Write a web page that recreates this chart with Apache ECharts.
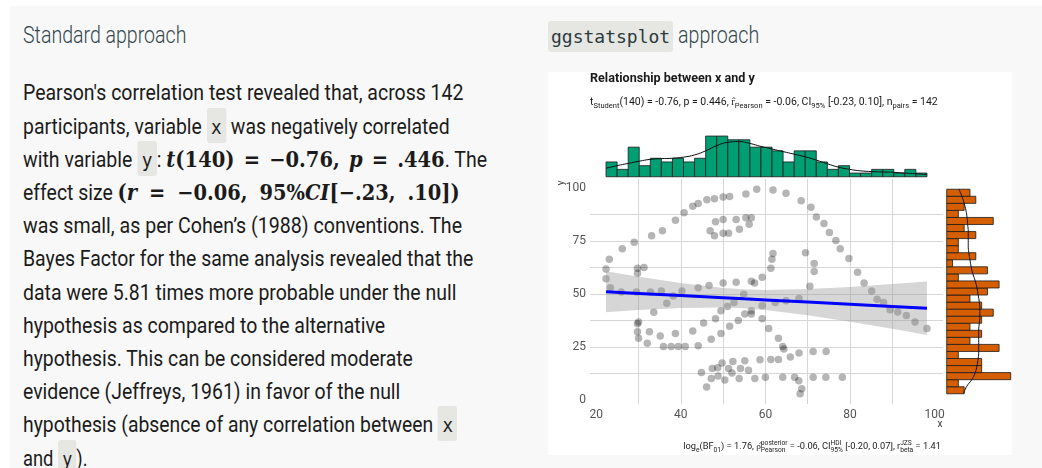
<!DOCTYPE html>
<html><head><meta charset="utf-8">
<script src="https://cdn.jsdelivr.net/npm/echarts@6/dist/echarts.min.js"></script>
<style>
 html,body{margin:0;padding:0;background:#fff;width:1042px;height:468px;overflow:hidden;}
 #panel{position:absolute;left:10px;top:6px;width:1032px;height:462px;background:#f8f8f8;}
 .hd{position:absolute;height:30px;line-height:30px;font-family:Roboto;font-weight:300;font-size:24px;color:#34474d;white-space:nowrap;transform-origin:0 0;}
 .chip{position:absolute;left:548px;top:21px;height:31px;line-height:31px;padding:0 3px;background:#e6e7e2;border-radius:3px;font-family:"DejaVu Sans Mono",monospace;font-size:18px;color:#2b3a3e;}
 .ln{position:absolute;left:23px;height:33px;line-height:33px;font-family:Roboto;font-size:22px;color:#1b1b1b;white-space:nowrap;transform-origin:0 0;}
 .cd{font-family:"DejaVu Sans Mono",monospace;font-size:20px;background:#e6e7e2;border-radius:3px;padding:7px 5px 4px 5px;}
 .mt{font-family:"DejaVu Serif",serif;font-weight:bold;font-size:22px;}
 #chart{position:absolute;left:548px;top:72px;width:464px;height:383px;background:#fff;}
</style></head>
<body>
<div id="panel"></div>
<div class="hd fit" data-w="163" style="left:23px;top:20px;">Standard approach</div>
<div class="chip">ggstatsplot</div>
<div class="hd fit" data-w="81" style="left:678px;top:20px;">approach</div>

<div id="l1" class="ln fit" data-w="440" style="top:76.3px">Pearson's correlation test revealed that, across 142</div>
<div class="ln fit" data-w="427" style="top:109.5px">participants, variable <span class="cd">x</span> was negatively correlated</div>
<div class="ln fit" data-w="464" style="top:142.7px">with variable <span class="cd">y</span>: <span class="mt" data-w="278"><i>t</i>(140) = −0.76, <i>p</i> = .446</span>. The</div>
<div class="ln fit" data-w="437" style="top:175.9px">effect size <span class="mt" data-w="343">(<i>r</i> = −0.06, 95%<i>CI</i>[−.23, .10])</span></div>
<div class="ln fit" data-w="439" style="top:209.1px">was small, as per Cohen’s (1988) conventions. The</div>
<div class="ln fit" data-w="450" style="top:242.3px">Bayes Factor for the same analysis revealed that the</div>
<div class="ln fit" data-w="433" style="top:275.5px">data were 5.81 times more probable under the null</div>
<div class="ln fit" data-w="362" style="top:308.7px">hypothesis as compared to the alternative</div>
<div class="ln fit" data-w="390" style="top:341.9px">hypothesis. This can be considered moderate</div>
<div class="ln fit" data-w="377" style="top:375.1px">evidence (Jeffreys, 1961) in favor of the null</div>
<div class="ln fit" data-w="434" style="top:408.3px">hypothesis (absence of any correlation between <span class="cd">x</span></div>
<div class="ln fit" data-w="65" style="top:441.5px">and <span class="cd">y</span>).</div>

<div id="chart"></div>
<script>
// ---------------- data ----------------
const xVals = [55.3846,51.5385,46.1538,42.8205,40.7692,38.7179,35.6410,33.0769,28.9744,26.1538,
23.0769,22.3077,22.3077,23.3333,25.8974,29.4872,32.8205,35.3846,40.2564,44.1026,
46.6667,50.0000,53.0769,56.6667,59.2308,61.2821,61.5385,61.7949,57.4359,54.8718,
52.5641,48.2051,49.4872,51.0256,45.3846,42.8205,38.7179,35.1282,32.5641,30.0000,
33.5897,36.6667,38.2051,29.7436,29.7436,30.0000,32.0513,35.8974,41.0256,44.1026,
47.1795,49.4872,51.5385,53.5897,55.1282,56.6667,59.2308,62.3077,64.8718,67.9487,
70.5128,71.5385,71.5385,69.4872,46.9231,48.2051,50.0000,53.0769,55.3846,56.6667,
56.1538,53.8462,51.2821,50.0000,47.9487,29.7436,29.7436,31.2821,57.9487,61.7949,
64.8718,68.4615,70.7692,72.0513,73.8462,75.1282,76.6667,77.6923,79.7436,81.7949,
83.3333,85.1282,86.4103,87.9487,89.4872,93.3333,95.3846,98.2051,56.6667,59.2308,
60.7692,63.0769,64.1026,64.3590,74.3590,71.2821,67.9487,65.8974,63.0769,61.2821,
58.7179,55.1282,52.3077,49.7436,47.4359,44.8718,48.7179,51.2821,54.1026,56.0,
46.1,47.2,48.8,50.4,52.1,53.8,57.5,60.0,64.1,66.9,
67.9,68.6,68.2,71.3,74.3,78.2,91.2821,50.0,47.9487,44.1026,
37.7,39.4];
const yVals = [97.1795,96.0256,94.4872,91.4103,88.3333,84.8718,79.8718,77.5641,74.4872,71.4103,
66.4103,61.7949,57.1795,52.9487,51.0256,51.0256,51.0256,51.4103,51.4103,52.9487,
54.1026,55.2564,55.6410,56.0256,57.9487,62.1795,66.4103,69.1026,55.2564,49.8718,
46.0256,38.3333,42.1795,44.1026,36.4103,32.5641,31.4103,30.2564,32.1795,36.7949,
41.4103,45.6410,49.1026,36.0256,32.1795,29.1026,26.7949,25.2564,25.2564,25.6410,
28.7180,31.4103,34.8718,37.5641,40.6410,42.1795,44.4872,46.0256,46.7949,47.9487,
53.7180,60.6410,64.4872,69.4872,79.8718,84.1026,85.2564,85.2564,86.0256,86.0256,
82.9487,80.6410,78.7180,78.7180,77.5641,59.8718,62.1795,62.5641,99.4872,99.1026,
97.5641,94.1026,91.0256,86.4103,83.3333,79.1026,75.2564,71.4103,66.7949,60.2564,
55.2564,51.4103,47.5641,46.0256,42.5641,39.8718,36.7949,33.7180,40.6410,38.3333,
33.7180,29.1026,25.2564,24.1026,22.9487,22.9487,22.1795,20.2564,19.1026,19.1026,
18.9744,18.5897,18.2051,17.4359,14.8718,12.9487,15.2564,14.8718,14.8718,14.1,
6.1,10.1,11.3,9.5,12.8,10.2,10.2,10.8,10.8,10.8,
9.1,5.3,2.95,10.8,10.8,10.8,41.5385,95.7692,95.0,92.6923,
25.3,25.3];

// marginal histogram counts (29 bins each); y counts listed bottom -> top
const xHistCounts = [4,2,8,3,5,4,5,4,5,11,11,10,10,8,8,7,4,7,7,4,2,3,1,1,2,2,1,2,1];
const yHistCounts = [3,2,11,6,6,2,9,4,6,4,6,8,6,4,7,9,2,7,1,5,2,2,5,3,8,2,3,5,4];
// density curves (count scale) read at the 30 bin edges
const xDensity = [2.3,3.0,3.6,4.2,4.7,4.9,5.0,5.3,5.9,7.0,8.4,9.3,9.5,9.0,8.2,7.5,6.8,6.1,5.4,4.5,3.5,2.6,2.0,1.6,1.4,1.3,1.2,1.0,0.8,0.6];
const yDensity = [2.9,3.4,4.3,4.9,5.2,5.4,5.5,5.5,5.5,5.5,5.6,5.7,5.7,5.6,5.4,5.2,4.9,4.5,4.2,4.0,3.8,3.7,3.7,3.7,3.6,3.5,3.3,3.0,2.6,2.1];

// linear fit with 95% confidence band
const fitX    = [22.3077,30,40,50,55,60,70,80,90,98.2051];
const fitY    = [51.12,50.33,49.30,48.27,47.75,47.24,46.21,45.18,44.15,43.31];
const bandLow = [41.46,42.44,43.42,43.65,43.27,42.51,40.06,36.96,33.58,30.71];
const bandHigh= [60.78,58.22,55.18,52.89,52.23,51.97,52.36,53.40,54.72,55.91];

// axis breaks
const xBreaks = [20,40,60,80,100];
const yBreaks = [0,25,50,75,100];
const xGridLines = [20,30,40,50,60,70,80,90,100];
const yGridLines = [0,12.5,25,37.5,50,62.5,75,87.5,100];

const titleText = 'Relationship between x and y';
const subtitleRuns = ['t',{sub:'Student'},'(140) = -0.76, p = 0.446, ','r\u0302',{sub:'Pearson'},' = -0.06, CI',{sub:'95%'},' [-0.23, 0.10], n',{sub:'pairs'},' = 142'];
const captionRuns = ['log',{sub:'e'},'(BF',{sub:'01'},') = 1.76, ','\u03c1\u0302',{sup:'posterior',sub:'Pearson'},' = -0.06, CI',{sup:'HDI',sub:'95%'},' [-0.20, 0.07], r',{sup:'JZS',sub:'beta'},' = 1.41'];

// ---------------- html text fitting ----------------
const baseScale = 440 / document.getElementById('l1').offsetWidth;
document.querySelectorAll('.mt').forEach(m=>{
  const want = parseFloat(m.dataset.w) / baseScale;
  const nSpaces = (m.textContent.match(/ /g) || []).length;
  m.style.wordSpacing = Math.max(0, (want - m.offsetWidth) / nSpaces) + 'px';
});
document.querySelectorAll('.fit').forEach(el=>{
  const w = el.offsetWidth, t = parseFloat(el.dataset.w);
  el.style.transform = 'scaleX(' + (t / w) + ')';
});

// ---------------- chart ----------------
const FAM = 'Roboto';
const mctx = document.createElement('canvas').getContext('2d');
function meas(t, fs, wt){ mctx.font = (wt||'normal') + ' ' + fs + 'px ' + FAM; return mctx.measureText(t).width; }
function runsWidth(runs, fs){
  let x = 0; const sm = fs*0.72;
  runs.forEach(r=>{
    if (typeof r === 'string') x += meas(r, fs);
    else x += Math.max(r.sub!=null?meas(r.sub,sm):0, r.sup!=null?meas(r.sup,sm):0);
  });
  return x;
}
function runsGraphic(runs, x0, yMid, fs, align){
  const sm = fs*0.72, items = []; let x = 0;
  runs.forEach(r=>{
    if (typeof r === 'string'){ items.push({t:r,x:x,dy:0,fs:fs}); x += meas(r,fs); }
    else {
      let w = 0;
      if (r.sub!=null){ items.push({t:r.sub,x:x,dy:fs*0.36,fs:sm}); w = Math.max(w, meas(r.sub,sm)); }
      if (r.sup!=null){ items.push({t:r.sup,x:x,dy:-fs*0.42,fs:sm}); w = Math.max(w, meas(r.sup,sm)); }
      x += w;
    }
  });
  const shift = align === 'right' ? x0 - x : x0;
  return items.map(it=>({type:'text', x: shift+it.x, y: yMid+it.dy, silent:true, z:10,
    style:{text: it.t, fontSize: it.fs, fontFamily: FAM, fill:'#1a1a1a', align:'left', verticalAlign:'middle'}}));
}

const xLo = Math.min(...xVals), xHi = Math.max(...xVals);
const yLo = Math.min(...yVals), yHi = Math.max(...yVals);
const xPad = (xHi-xLo)*0.05, yPad = (yHi-yLo)*0.05;
const xMin = xLo-xPad, xMax = xHi+xPad, yMin = yLo-yPad, yMax = yHi+yPad;

const xBinW = (xHi-xLo)/xHistCounts.length, yBinW = (yHi-yLo)/yHistCounts.length;
const xHistData = xHistCounts.map((c,i)=>[xLo+i*xBinW, xLo+(i+1)*xBinW, c]);
const yHistData = yHistCounts.map((c,i)=>[yLo+i*yBinW, yLo+(i+1)*yBinW, c]);
const xDensData = xDensity.map((d,i)=>[xLo+i*xBinW, d]);
const yDensData = yDensity.map((d,i)=>[d, yLo+i*yBinW]);

const subFs0 = 10;
const subFs = subFs0 * 348 / runsWidth(subtitleRuns, subFs0);
const capFs = subFs0 * 258 / runsWidth(captionRuns, subFs0);
const titleFs = 11 * 165 / meas(titleText, 11, 'bold');

const graphics = []
  .concat([{type:'text', x:42, y:6.5, silent:true, style:{text:titleText, fontSize:titleFs, fontWeight:'bold', fontFamily:FAM, fill:'#1a1a1a', align:'left', verticalAlign:'middle'}}])
  .concat(runsGraphic(subtitleRuns, 42, 30, subFs, 'left'))
  .concat(runsGraphic(captionRuns, 393, 375, capFs, 'right'))
  .concat([
    {type:'text', x:392, y:352, silent:true, style:{text:'x', fontSize:10, fontFamily:FAM, fill:'#333', align:'center', verticalAlign:'middle'}},
    {type:'text', x:13, y:111, rotation:Math.PI/2, silent:true, style:{text:'y', fontSize:10, fontFamily:FAM, fill:'#333', align:'center', verticalAlign:'middle'}}
  ]);

const chart = echarts.init(document.getElementById('chart'), null, {renderer:'canvas'});
const labelStyle = {color:'#555555', fontSize:12, fontFamily:FAM};
chart.setOption({
  animation:false,
  backgroundColor:'#ffffff',
  grid:[
    {left:42, top:107, width:353, height:225},
    {left:42, top:58.5, width:353, height:46.25},
    {left:398.7, top:107, width:65.2, height:225}
  ],
  xAxis:[
    {gridIndex:0, type:'value', min:xMin, max:xMax,
     axisLine:{show:false}, axisTick:{show:false, customValues:xGridLines},
     axisLabel:Object.assign({customValues:xBreaks, margin:5}, labelStyle),
     splitLine:{show:true, showMinLine:false, showMaxLine:false, lineStyle:{color:'#d6d6d6', width:1}}},
    {gridIndex:1, type:'value', min:xMin, max:xMax, show:false},
    {gridIndex:2, type:'value', min:0, max:11.2, show:false}
  ],
  yAxis:[
    {gridIndex:0, type:'value', min:yMin, max:yMax,
     axisLine:{show:false}, axisTick:{show:false, customValues:yGridLines},
     axisLabel:Object.assign({customValues:yBreaks, margin:4}, labelStyle),
     splitLine:{show:true, showMinLine:false, showMaxLine:false, lineStyle:{color:'#d6d6d6', width:1}}},
    {gridIndex:1, type:'value', min:0, max:12.5, show:false},
    {gridIndex:2, type:'value', min:yMin, max:yMax, show:false}
  ],
  graphic: graphics,
  series:[
    {type:'scatter', xAxisIndex:0, yAxisIndex:0, z:2, symbolSize:7.5,
     itemStyle:{color:'rgba(0,0,0,0.36)'}, data:xVals.map((x,i)=>[x,yVals[i]])},
    {type:'custom', xAxisIndex:0, yAxisIndex:0, z:3, silent:true,
     encode:{x:0, y:[1,2]},
     data: fitX.map((x,i)=>[x,bandLow[i],bandHigh[i]]),
     renderItem:(params,api)=>{
       if (params.dataIndex !== 0) return null;
       const pts = [];
       fitX.forEach((x,i)=>pts.push(api.coord([x,bandHigh[i]])));
       for (let i=fitX.length-1;i>=0;i--) pts.push(api.coord([fitX[i],bandLow[i]]));
       return {type:'polygon', shape:{points:pts}, style:{fill:'rgba(153,153,153,0.4)'}};
     }},
    {type:'line', xAxisIndex:0, yAxisIndex:0, z:4, showSymbol:false, silent:true,
     lineStyle:{color:'#0000ff', width:3}, data:fitX.map((x,i)=>[x,fitY[i]])},
    {type:'custom', xAxisIndex:1, yAxisIndex:1, silent:true, encode:{x:[0,1], y:2},
     data:xHistData,
     renderItem:(params,api)=>{
       const p0 = api.coord([api.value(0), api.value(2)]);
       const p1 = api.coord([api.value(1), 0]);
       return {type:'rect', shape:{x:p0[0], y:p0[1], width:p1[0]-p0[0], height:p1[1]-p0[1]},
               style:{fill:'#009E73', stroke:'#1a1a1a', lineWidth:0.8}};
     }},
    {type:'line', xAxisIndex:1, yAxisIndex:1, z:5, showSymbol:false, smooth:true, silent:true,
     lineStyle:{color:'#111', width:1}, data:xDensData},
    {type:'custom', xAxisIndex:2, yAxisIndex:2, silent:true, encode:{x:2, y:[0,1]},
     data:yHistData,
     renderItem:(params,api)=>{
       const p0 = api.coord([0, api.value(1)]);
       const p1 = api.coord([api.value(2), api.value(0)]);
       return {type:'rect', shape:{x:p0[0], y:p0[1], width:p1[0]-p0[0], height:p1[1]-p0[1]},
               style:{fill:'#D55E00', stroke:'#1a1a1a', lineWidth:0.8}};
     }},
    {type:'line', xAxisIndex:2, yAxisIndex:2, z:5, showSymbol:false, smooth:true, silent:true,
     lineStyle:{color:'#111', width:1}, data:yDensData}
  ]
});
</script>
</body></html>
